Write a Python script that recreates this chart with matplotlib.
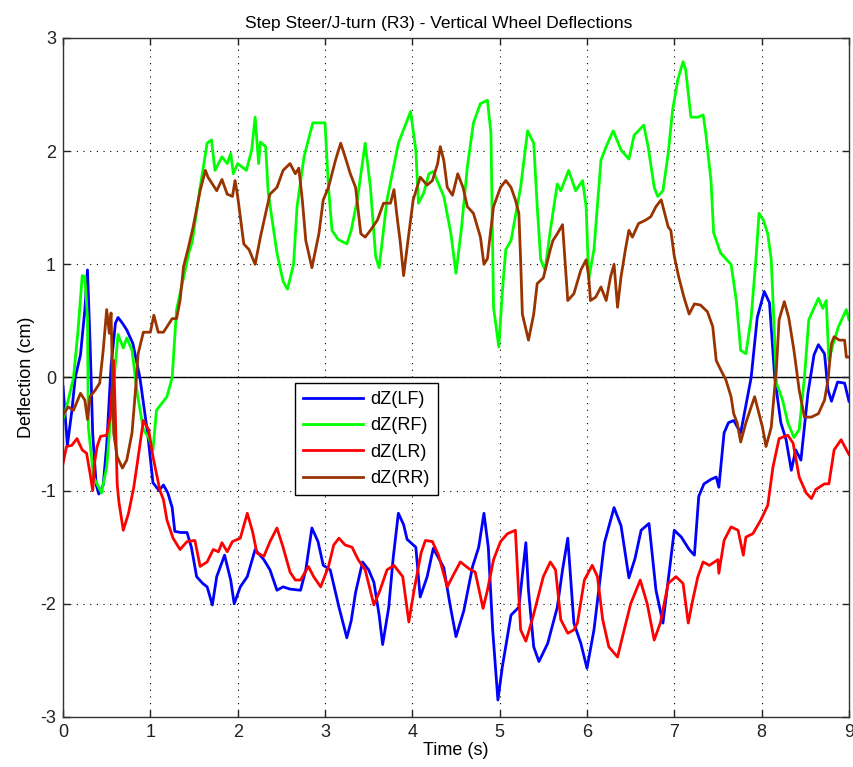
import matplotlib
matplotlib.use("Agg")
import matplotlib.pyplot as plt

plt.rcParams['font.family'] = ['Liberation Sans', 'DejaVu Sans']
plt.rcParams['axes.unicode_minus'] = False

# Vertical wheel deflection traces (cm) vs time (s)
t_lf = [0.0, 0.05, 0.1, 0.14, 0.2, 0.25, 0.28, 0.31, 0.34, 0.38, 0.41, 0.46, 0.5, 0.55, 0.6, 0.63,
        0.68, 0.73, 0.8, 0.88, 0.97, 1.03, 1.1, 1.15, 1.2, 1.25, 1.28, 1.35, 1.42, 1.47, 1.53, 1.6,
        1.65, 1.71, 1.76, 1.85, 1.92, 1.96, 2.03, 2.11, 2.2, 2.3, 2.37, 2.45, 2.52, 2.6, 2.72, 2.78,
        2.85, 2.92, 2.98, 3.06, 3.16, 3.25, 3.3, 3.35, 3.43, 3.5, 3.56, 3.62, 3.66, 3.73, 3.78, 3.84,
        3.9, 3.94, 4.04, 4.09, 4.17, 4.24, 4.36, 4.43, 4.5, 4.59, 4.69, 4.76, 4.82, 4.87, 4.92, 4.98,
        5.03, 5.13, 5.22, 5.3, 5.33, 5.39, 5.45, 5.55, 5.66, 5.72, 5.78, 5.85, 5.93, 6.0, 6.08, 6.2,
        6.31, 6.39, 6.48, 6.55, 6.62, 6.71, 6.79, 6.87, 6.93, 7.0, 7.08, 7.17, 7.23, 7.28, 7.34, 7.42,
        7.48, 7.51, 7.57, 7.62, 7.68, 7.76, 7.88, 7.95, 8.03, 8.09, 8.15, 8.22, 8.28, 8.34, 8.39, 8.45,
        8.53, 8.6, 8.65, 8.72, 8.76, 8.8, 8.87, 8.95, 9.0]
dz_lf = [-0.08, -0.6, -0.3, 0.0, 0.2, 0.6, 0.95, 0.3, -0.5, -0.95, -1.03, -0.95, -0.6, 0.1, 0.48, 0.53,
         0.48, 0.42, 0.3, 0.0, -0.5, -0.93, -1.0, -0.95, -1.02, -1.15, -1.36, -1.37, -1.37, -1.5, -1.76, -1.82,
         -1.85, -2.01, -1.76, -1.57, -1.79, -2.0, -1.85, -1.76, -1.52, -1.61, -1.7, -1.88, -1.85, -1.87, -1.88, -1.7,
         -1.33, -1.45, -1.66, -1.7, -2.03, -2.3, -2.15, -1.9, -1.63, -1.7, -1.81, -2.1, -2.36, -2.03, -1.6, -1.2,
         -1.3, -1.43, -1.5, -1.94, -1.76, -1.51, -1.68, -2.0, -2.29, -2.06, -1.67, -1.5, -1.2, -1.5, -2.23, -2.85,
         -2.56, -2.1, -2.03, -1.46, -1.88, -2.38, -2.51, -2.35, -2.03, -1.7, -1.42, -2.17, -2.35, -2.57, -2.23, -1.46,
         -1.15, -1.31, -1.77, -1.6, -1.35, -1.29, -1.88, -2.17, -1.79, -1.35, -1.41, -1.52, -1.57, -1.05, -0.94, -0.9,
         -0.88, -0.97, -0.49, -0.4, -0.38, -0.49, 0.0, 0.53, 0.76, 0.66, 0.0, -0.4, -0.55, -0.82, -0.64, -0.73,
         -0.14, 0.2, 0.29, 0.21, -0.11, -0.21, -0.04, -0.05, -0.21]

t_rf = [0.0, 0.06, 0.12, 0.17, 0.22, 0.25, 0.28, 0.29, 0.35, 0.44, 0.5, 0.54, 0.58, 0.63, 0.69, 0.73,
        0.79, 0.85, 0.92, 0.98, 1.03, 1.07, 1.19, 1.25, 1.3, 1.4, 1.44, 1.48, 1.57, 1.65, 1.7, 1.74,
        1.82, 1.88, 1.92, 1.95, 2.0, 2.1, 2.16, 2.2, 2.24, 2.26, 2.32, 2.35, 2.45, 2.52, 2.57, 2.64,
        2.68, 2.76, 2.86, 3.0, 3.04, 3.08, 3.15, 3.25, 3.3, 3.37, 3.46, 3.52, 3.58, 3.62, 3.71, 3.84,
        3.98, 4.04, 4.07, 4.13, 4.19, 4.24, 4.3, 4.36, 4.44, 4.5, 4.56, 4.63, 4.7, 4.78, 4.86, 4.9,
        4.93, 4.99, 5.03, 5.07, 5.13, 5.24, 5.32, 5.39, 5.43, 5.47, 5.52, 5.58, 5.66, 5.7, 5.79, 5.87,
        5.95, 5.99, 6.02, 6.08, 6.16, 6.22, 6.3, 6.39, 6.48, 6.54, 6.65, 6.7, 6.77, 6.81, 6.87, 6.93,
        6.98, 7.04, 7.1, 7.13, 7.19, 7.27, 7.33, 7.36, 7.42, 7.45, 7.53, 7.6, 7.65, 7.71, 7.76, 7.82,
        7.88, 7.94, 7.97, 8.02, 8.07, 8.11, 8.14, 8.17, 8.24, 8.3, 8.37, 8.43, 8.49, 8.54, 8.65, 8.7,
        8.74, 8.77, 8.82, 8.88, 8.97, 9.0]
dz_rf = [-0.37, -0.2, 0.0, 0.4, 0.9, 0.89, 0.53, -0.44, -0.88, -1.02, -0.79, -0.4, -0.05, 0.38, 0.26, 0.35,
         0.24, -0.14, -0.46, -0.53, -0.64, -0.29, -0.17, 0.0, 0.6, 0.95, 1.1, 1.2, 1.68, 2.07, 2.1, 1.83,
         1.95, 1.89, 1.98, 1.8, 1.89, 1.83, 2.01, 2.3, 1.89, 2.08, 2.04, 1.63, 1.1, 0.85, 0.78, 1.0,
         1.51, 1.95, 2.25, 2.25, 1.68, 1.3, 1.22, 1.18, 1.3, 1.57, 2.07, 1.68, 1.07, 0.97, 1.57, 2.07,
         2.35, 2.01, 1.54, 1.63, 1.8, 1.82, 1.71, 1.6, 1.28, 0.92, 1.3, 1.86, 2.25, 2.42, 2.45, 2.16,
         0.62, 0.27, 0.75, 1.13, 1.21, 1.68, 2.18, 2.07, 1.51, 1.04, 0.95, 1.3, 1.71, 1.65, 1.83, 1.65,
         1.74, 1.51, 0.87, 1.13, 1.92, 2.04, 2.18, 2.01, 1.93, 2.14, 2.23, 2.04, 1.68, 1.6, 1.65, 1.98,
         2.36, 2.63, 2.79, 2.72, 2.3, 2.3, 2.32, 2.16, 1.74, 1.28, 1.1, 1.04, 1.0, 0.68, 0.24, 0.21,
         0.53, 1.1, 1.45, 1.39, 1.27, 1.04, 0.5, -0.05, -0.2, -0.4, -0.53, -0.46, 0.0, 0.51, 0.7, 0.61,
         0.68, 0.15, 0.3, 0.45, 0.6, 0.51]

t_lr = [0.0, 0.04, 0.1, 0.16, 0.22, 0.27, 0.31, 0.34, 0.36, 0.39, 0.43, 0.5, 0.54, 0.57, 0.58, 0.6,
        0.62, 0.64, 0.69, 0.75, 0.81, 0.85, 0.92, 0.98, 1.03, 1.11, 1.15, 1.19, 1.26, 1.34, 1.42, 1.51,
        1.57, 1.65, 1.72, 1.78, 1.82, 1.88, 1.94, 2.03, 2.11, 2.17, 2.22, 2.3, 2.37, 2.45, 2.52, 2.6,
        2.66, 2.72, 2.81, 2.87, 2.95, 3.04, 3.1, 3.16, 3.23, 3.31, 3.38, 3.46, 3.56, 3.63, 3.71, 3.79,
        3.89, 3.96, 4.02, 4.1, 4.15, 4.23, 4.3, 4.4, 4.48, 4.55, 4.65, 4.72, 4.81, 4.86, 4.93, 5.01,
        5.09, 5.18, 5.21, 5.24, 5.3, 5.38, 5.45, 5.5, 5.58, 5.64, 5.7, 5.78, 5.85, 5.89, 5.97, 6.06,
        6.12, 6.18, 6.25, 6.35, 6.41, 6.5, 6.61, 6.69, 6.77, 6.84, 6.93, 7.02, 7.1, 7.16, 7.21, 7.27,
        7.33, 7.4, 7.5, 7.51, 7.57, 7.65, 7.73, 7.79, 7.82, 7.9, 7.99, 8.07, 8.13, 8.2, 8.3, 8.36,
        8.43, 8.51, 8.57, 8.62, 8.72, 8.77, 8.83, 8.91, 9.0]
dz_lr = [-0.76, -0.61, -0.6, -0.54, -0.64, -0.67, -0.85, -1.0, -0.76, -0.61, -0.52, -0.51, -0.35, 0.0, 0.15, -0.35,
         -0.94, -1.1, -1.35, -1.2, -0.97, -0.76, -0.38, -0.46, -0.7, -1.0, -1.08, -1.26, -1.42, -1.52, -1.45, -1.44,
         -1.67, -1.63, -1.52, -1.54, -1.46, -1.54, -1.45, -1.42, -1.2, -1.36, -1.55, -1.58, -1.45, -1.33, -1.5, -1.72,
         -1.79, -1.79, -1.67, -1.76, -1.85, -1.67, -1.48, -1.42, -1.48, -1.5, -1.61, -1.7, -2.01, -1.88, -1.7, -1.66,
         -1.76, -2.16, -1.88, -1.55, -1.44, -1.45, -1.57, -1.85, -1.73, -1.63, -1.69, -1.72, -2.04, -1.88, -1.61, -1.45,
         -1.38, -1.35, -1.79, -2.23, -2.33, -2.12, -1.91, -1.76, -1.63, -1.7, -2.14, -2.26, -2.23, -2.17, -1.79, -1.66,
         -1.76, -2.14, -2.38, -2.47, -2.28, -2.0, -1.79, -2.0, -2.32, -2.17, -1.82, -1.76, -1.82, -2.17, -1.97, -1.76,
         -1.63, -1.66, -1.61, -1.73, -1.44, -1.32, -1.35, -1.57, -1.41, -1.38, -1.26, -1.13, -0.79, -0.54, -0.51, -0.58,
         -0.88, -1.02, -1.07, -0.99, -0.94, -0.94, -0.64, -0.55, -0.68]

t_rr = [0.0, 0.06, 0.12, 0.2, 0.25, 0.28, 0.31, 0.37, 0.42, 0.46, 0.5, 0.53, 0.55, 0.58, 0.62, 0.68,
        0.73, 0.79, 0.83, 0.86, 0.92, 1.0, 1.04, 1.09, 1.15, 1.25, 1.3, 1.34, 1.38, 1.43, 1.49, 1.57,
        1.63, 1.66, 1.76, 1.82, 1.88, 1.94, 1.97, 2.0, 2.07, 2.13, 2.2, 2.26, 2.32, 2.37, 2.45, 2.52,
        2.6, 2.66, 2.7, 2.74, 2.78, 2.85, 2.93, 2.98, 3.04, 3.12, 3.18, 3.23, 3.29, 3.35, 3.41, 3.46,
        3.52, 3.6, 3.67, 3.75, 3.79, 3.83, 3.86, 3.9, 3.96, 4.01, 4.09, 4.17, 4.23, 4.29, 4.32, 4.36,
        4.4, 4.46, 4.52, 4.58, 4.63, 4.7, 4.78, 4.82, 4.86, 4.93, 5.01, 5.07, 5.13, 5.18, 5.22, 5.24,
        5.26, 5.33, 5.39, 5.43, 5.5, 5.58, 5.61, 5.66, 5.72, 5.74, 5.78, 5.85, 5.93, 5.99, 6.02, 6.04,
        6.1, 6.16, 6.22, 6.27, 6.31, 6.35, 6.39, 6.44, 6.48, 6.52, 6.59, 6.67, 6.73, 6.79, 6.85, 6.88,
        6.93, 6.96, 7.0, 7.05, 7.11, 7.17, 7.23, 7.3, 7.38, 7.44, 7.48, 7.53, 7.59, 7.65, 7.68, 7.72,
        7.76, 7.82, 7.88, 7.92, 7.95, 8.01, 8.05, 8.11, 8.17, 8.2, 8.26, 8.31, 8.37, 8.43, 8.49, 8.57,
        8.65, 8.72, 8.76, 8.8, 8.83, 8.89, 8.95, 8.97, 9.0]
dz_rr = [-0.33, -0.26, -0.29, -0.14, -0.2, -0.37, -0.17, -0.11, -0.05, 0.24, 0.6, 0.39, 0.57, -0.49, -0.7, -0.8,
         -0.73, -0.49, -0.11, 0.21, 0.4, 0.4, 0.55, 0.4, 0.4, 0.52, 0.52, 0.68, 0.98, 1.13, 1.33, 1.65,
         1.83, 1.77, 1.65, 1.75, 1.62, 1.6, 1.74, 1.6, 1.18, 1.13, 1.0, 1.24, 1.45, 1.62, 1.68, 1.83,
         1.89, 1.8, 1.85, 1.57, 1.21, 0.97, 1.27, 1.57, 1.68, 1.92, 2.07, 1.95, 1.8, 1.68, 1.27, 1.24,
         1.3, 1.39, 1.54, 1.54, 1.66, 1.39, 1.21, 0.9, 1.27, 1.57, 1.77, 1.7, 1.74, 1.89, 2.04, 1.92,
         1.68, 1.61, 1.8, 1.68, 1.51, 1.45, 1.24, 1.0, 1.05, 1.51, 1.68, 1.74, 1.68, 1.57, 1.45, 1.04,
         0.56, 0.33, 0.56, 0.83, 0.88, 1.13, 1.21, 1.27, 1.35, 1.13, 0.68, 0.74, 0.95, 1.04, 0.89, 0.68,
         0.71, 0.8, 0.68, 0.89, 1.0, 0.62, 0.89, 1.13, 1.3, 1.24, 1.36, 1.39, 1.42, 1.51, 1.57, 1.48,
         1.33, 1.3, 1.07, 0.89, 0.71, 0.56, 0.65, 0.64, 0.58, 0.45, 0.15, 0.07, -0.02, -0.17, -0.32, -0.4,
         -0.57, -0.4, -0.26, -0.17, -0.26, -0.44, -0.61, -0.44, 0.09, 0.51, 0.67, 0.53, 0.24, -0.11, -0.35, -0.35,
         -0.32, -0.2, -0.02, 0.3, 0.36, 0.33, 0.33, 0.18, 0.18]

series = [
    (t_lf, dz_lf, 'dZ(LF)', '#0000ff'),
    (t_rf, dz_rf, 'dZ(RF)', '#00ff00'),
    (t_lr, dz_lr, 'dZ(LR)', '#ff0000'),
    (t_rr, dz_rr, 'dZ(RR)', '#993300'),
]

x_ticks = [0, 1, 2, 3, 4, 5, 6, 7, 8, 9]
y_ticks = [-3, -2, -1, 0, 1, 2, 3]

fig = plt.figure(figsize=(8.54, 7.67), dpi=100)
ax = fig.add_axes([0.0738, 0.0652, 0.9203, 0.8853])

for t, z, name, col in series:
    ax.plot(t, z, color=col, lw=2.0, label=name)

ax.axhline(0, color='black', lw=1.0, zorder=1)

ax.set_xlim(0, 9)
ax.set_ylim(-3, 3)
ax.set_xticks(x_ticks)
ax.set_yticks(y_ticks)
ax.grid(True, color='black', linestyle=(0, (1, 5)), lw=0.8)
ax.tick_params(direction='in', length=5, width=1, top=True, right=True,
               labelsize=13, colors='#222222', pad=5)
for sp in ax.spines.values():
    sp.set_linewidth(1.0)
    sp.set_color('#333333')

ax.set_title('Step Steer/J-turn (R3) - Vertical Wheel Deflections', fontsize=12.5, pad=7, x=0.478)
ax.set_xlabel('Time (s)', fontsize=13, labelpad=1)
ax.set_ylabel('Deflection (cm)', fontsize=13, labelpad=4)

leg = ax.legend(loc='upper left', bbox_to_anchor=(0.295, 0.492), fontsize=13,
                frameon=True, fancybox=False, edgecolor='black', framealpha=1,
                handlelength=3.3, handletextpad=0.45, borderpad=0.45, labelspacing=0.52,
                borderaxespad=0)
leg.get_frame().set_linewidth(1.0)

fig.savefig('out.png', dpi=100)
